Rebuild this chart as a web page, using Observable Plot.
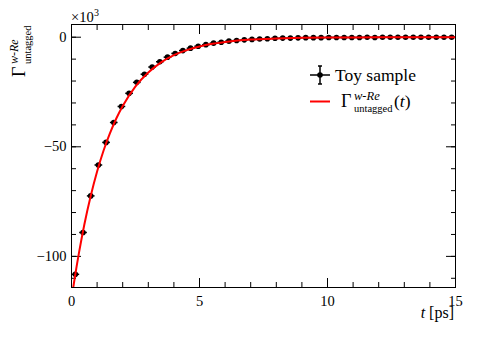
<!DOCTYPE html>
<html><head><meta charset="utf-8">
<script src="https://cdn.jsdelivr.net/npm/d3@7"></script>
<script src="https://cdn.jsdelivr.net/npm/@observablehq/plot@0.6"></script>
<style>
body{margin:0;background:#fff}
#c{position:relative;width:478px;height:346px}
#c svg text{font-family:'Liberation Serif','Times New Roman',serif !important;}
</style>
</head><body><div id="c"></div>
<script>
// bin centres [ps] (bin width 0.3 ps)
const tCenters = [0.15,0.45,0.75,1.05,1.35,1.65,1.95,2.25,2.55,2.85,
  3.15,3.45,3.75,4.05,4.35,4.65,4.95,5.25,5.55,5.85,
  6.15,6.45,6.75,7.05,7.35,7.65,7.95,8.25,8.55,8.85,
  9.15,9.45,9.75,10.05,10.35,10.65,10.95,11.25,11.55,11.85,
  12.15,12.45,12.75,13.05,13.35,13.65,13.95,14.25,14.55,14.85];
// toy sample values (x10^3)
const counts = [-108.2,-89.1,-72.4,-58.3,-48.0,-38.9,-31.6,-25.6,-20.6,-16.9,
  -13.6,-11.2,-9.1,-7.4,-6.1,-5.0,-4.1,-3.4,-2.7,-2.3,
  -1.8,-1.5,-1.2,-1.0,-0.8,-0.7,-0.5,-0.4,-0.4,-0.3,
  -0.2,-0.2,-0.2,-0.1,-0.1,-0.1,-0.1,-0.1,0.0,-0.1,
  0.0,0.0,0.0,0.0,0.0,0.0,0.0,0.0,0.0,0.0];
const yErr = [1.0,0.9,0.8,0.7,0.7,0.6,0.6,0.5,0.5,0.4,
  0.4,0.4,0.3,0.3,0.3,0.3,0.2,0.2,0.2,0.2,
  0.2,0.2,0.2,0.1,0.1,0.1,0.1,0.1,0.1,0.1,
  0.1,0.1,0.1,0.1,0.1,0.1,0.1,0.1,0.1,0.1,
  0.1,0.1,0.1,0.1,0.1,0.1,0.1,0.1,0.1,0.1];
const binHalf = 0.15;
// fitted curve Gamma(t)
const curveT = [0,0.1,0.2,0.3,0.4,0.5,0.75,1,1.25,1.5,1.75,2,2.5,3,3.5,4,4.5,5,5.5,6,7,8,9,10,12,15];
const curveY = [-119.5,-111.8,-104.6,-97.8,-91.5,-85.6,-72.5,-61.3,-51.8,-43.9,-37.1,-31.4,-22.4,-16.1,-11.5,-8.2,-5.9,-4.2,-3.0,-2.2,-1.1,-0.6,-0.3,-0.15,-0.05,0];
const xMajor = [0,5,10,15];
const xMinor = [1,2,3,4,6,7,8,9,11,12,13,14];
const yMajor = [0,-50,-100];
const yMinor = [0,-10,-20,-30,-40,-50,-60,-70,-80,-90,-100,-110];

const pts = tCenters.map((t,i)=>({t, v:counts[i], e:yErr[i]}));
const curve = curveT.map((t,i)=>({t, v:curveY[i]}));
const FONT = "'Liberation Serif','Times New Roman',serif";

const tickOpts = {fill:"none", label:null, stroke:"black", strokeWidth:1};
const chart = Plot.plot({
  width:478, height:346,
  marginLeft:71, marginRight:23, marginTop:24, marginBottom:59,
  x:{domain:[0,15]},
  y:{domain:[-114.2,5.8]},
  style:{fontFamily:FONT, background:"white"},
  marks:[
    Plot.axisX(xMajor,{anchor:"bottom", tickSize:-9, ...tickOpts}),
    Plot.axisX(xMinor,{anchor:"bottom", tickSize:-5, ...tickOpts}),
    Plot.axisX(xMajor,{anchor:"top", tickSize:-9, ...tickOpts}),
    Plot.axisX(xMinor,{anchor:"top", tickSize:-5, ...tickOpts}),
    Plot.axisY(yMajor,{anchor:"left", tickSize:-10, ...tickOpts}),
    Plot.axisY(yMinor,{anchor:"left", tickSize:-5, ...tickOpts}),
    Plot.axisY(yMajor,{anchor:"right", tickSize:-10, ...tickOpts}),
    Plot.axisY(yMinor,{anchor:"right", tickSize:-5, ...tickOpts}),
    Plot.axisX(xMajor,{anchor:"bottom", tickSize:0, tickPadding:8, label:null, fontSize:14.5, fill:"black"}),
    Plot.axisY(yMajor,{anchor:"left", tickSize:0, tickPadding:5, label:null, fontSize:14.5, fill:"black"}),
    Plot.link(pts,{x1:d=>d.t-binHalf, x2:d=>d.t+binHalf, y1:"v", y2:"v", stroke:"black", strokeWidth:1.5}),
    Plot.ruleX(pts,{x:"t", y1:d=>d.v-d.e, y2:d=>d.v+d.e, stroke:"black", strokeWidth:1.5}),
    Plot.dot(pts,{x:"t", y:"v", r:2.8, fill:"black", stroke:"none"}),
    Plot.line(curve,{x:"t", y:"v", stroke:"#ff0000", strokeWidth:2, curve:"monotone-x", clip:true}),
    Plot.frame({stroke:"black", strokeWidth:1})
  ]
});
document.getElementById("c").appendChild(chart);

const svg = d3.select(chart);
const g = svg.append("g").attr("fill","black").attr("text-anchor","start");
// x-axis title
const xt = g.append("text").attr("x",454).attr("y",318).attr("text-anchor","end").attr("font-size",16);
xt.append("tspan").attr("font-style","italic").text("t");
xt.append("tspan").text(" [ps]");
// exponent
g.append("text").attr("x",71).attr("y",22).attr("font-size",14.5).text("×10");
g.append("text").attr("x",94).attr("y",16).attr("font-size",10).text("3");
// y-axis title (rotated)
const yt = g.append("g").attr("transform","rotate(-90)");
yt.append("text").attr("x",-77).attr("y",25).attr("font-size",18).text("Γ");
yt.append("text").attr("x",-64).attr("y",18).attr("font-size",12).attr("font-style","italic").text("w-Re");
yt.append("text").attr("x",-64).attr("y",31).attr("font-size",10.5).text("untagged");
// legend
const lg = g.append("g");
lg.append("line").attr("x1",310).attr("x2",330).attr("y1",75).attr("y2",75).attr("stroke","black").attr("stroke-width",1.5);
lg.append("line").attr("x1",320).attr("x2",320).attr("y1",66).attr("y2",84).attr("stroke","black").attr("stroke-width",1.5);
lg.append("line").attr("x1",318).attr("x2",322).attr("y1",66).attr("y2",66).attr("stroke","black").attr("stroke-width",1.5);
lg.append("line").attr("x1",318).attr("x2",322).attr("y1",84).attr("y2",84).attr("stroke","black").attr("stroke-width",1.5);
lg.append("circle").attr("cx",320).attr("cy",75).attr("r",2.8).attr("fill","black");
lg.append("text").attr("x",335).attr("y",81).attr("font-size",17.5).text("Toy sample");
lg.append("line").attr("x1",310).attr("x2",330).attr("y1",101.5).attr("y2",101.5).attr("stroke","#ff0000").attr("stroke-width",2);
lg.append("text").attr("x",341).attr("y",107).attr("font-size",18).text("Γ");
lg.append("text").attr("x",354).attr("y",100).attr("font-size",12.5).attr("font-style","italic").text("w-Re");
lg.append("text").attr("x",354).attr("y",112).attr("font-size",10.5).text("untagged");
const lt = lg.append("text").attr("x",394).attr("y",107).attr("font-size",17.5);
lt.append("tspan").text("(");
lt.append("tspan").attr("font-style","italic").text("t");
lt.append("tspan").text(")");
</script>
</body></html>
